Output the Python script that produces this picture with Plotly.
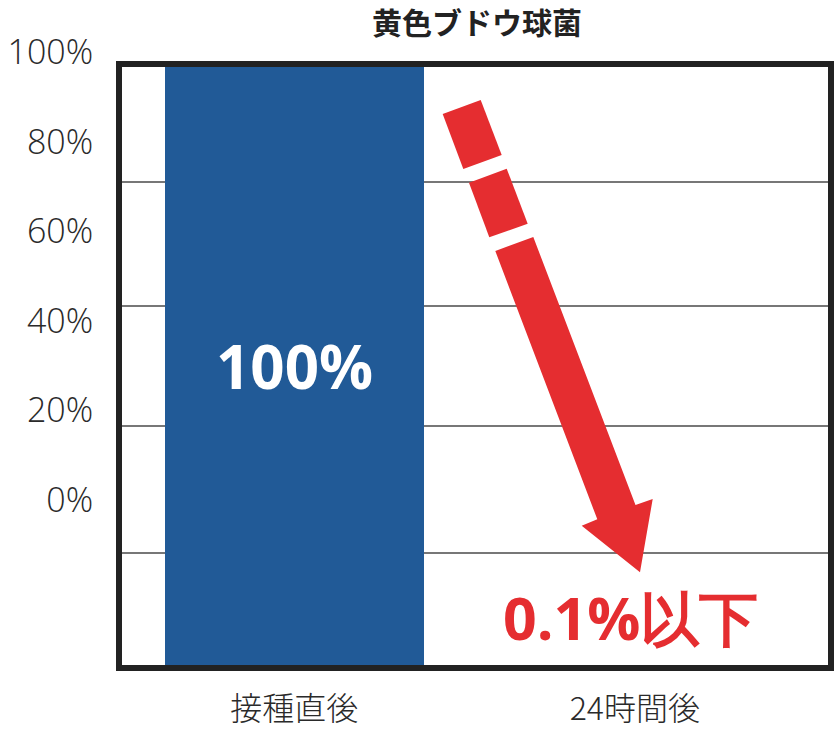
import plotly.graph_objects as go

# ---- data ----
categories = ["接種直後", "24時間後"]
values = [100, 0.1]
bar_labels = ["100%", "0.1%以下"]
grid_values = [19, 40, 60, 80.5]
tick_values = [0, 20, 40, 60, 80, 100]
tick_labels = ["0%", "20%", "40%", "60%", "80%", "100%"]
title_text = "黄色ブドウ球菌"

# ---- styling ----
W, H = 834, 731
ML, MR, MT, MB = 119, 3, 40, 63
BLUE = "#215a97"
RED = "#e52d30"
DARK = "#222222"
TXT = "#2a2a2a"
CJK = "Noto Sans CJK JP"
OPEN = "Open Sans"

plot_w = W - ML - MR
plot_h = H - MT - MB
ytop_px = 64  # top of main y domain (px from top)
main_top = (H - MB - ytop_px) / plot_h


def px2paper(px, py):
    return (px - ML) / plot_w, (H - MB - py) / plot_h


def poly(points):
    parts = []
    for i, (px, py) in enumerate(points):
        x, y = px2paper(px, py)
        parts.append(("M" if i == 0 else "L") + f"{x:.5f},{y:.5f}")
    return " ".join(parts) + " Z"


fig = go.Figure()
fig.add_trace(go.Bar(
    x=categories, y=values, width=0.76,
    marker=dict(color=BLUE, line=dict(width=0)),
    text=[bar_labels[0], ""],
    textposition="inside",
    insidetextanchor="middle",
    textfont=dict(color="white", size=60, family=OPEN, weight="bold"),
    cliponaxis=False,
    hoverinfo="skip", showlegend=False,
))
# helper trace so the label axis is drawn
fig.add_trace(go.Scatter(x=[None], y=[None], yaxis="y2", showlegend=False, hoverinfo="skip"))

# label axis geometry: 0% at y=500px, 100% at y=52px
y2_lo = (H - MB - 500) / plot_h
y2_hi = (H - MB - 52) / plot_h

arrow_segments = [
    [(442.7, 114), (480.7, 100), (501.7, 155), (463.3, 169)],
    [(469, 182.7), (506.7, 168.7), (527.7, 223.7), (489.3, 237.3)],
    [(495.3, 251), (533.3, 237), (635.5, 505), (652.7, 499), (640, 572.3), (581.7, 525.7), (597.3, 519.3)],
]
shapes = [
    dict(type="path", xref="paper", yref="paper", path=poly(seg),
         fillcolor=RED, line=dict(width=0), layer="above")
    for seg in arrow_segments
]
shapes.append(dict(type="rect", xref="x domain", yref="y domain", x0=0, x1=1, y0=0, y1=1,
                   line=dict(color=DARK, width=6), fillcolor="rgba(0,0,0,0)", layer="above"))

fig.add_annotation(x=categories[1], y=values[1], xref="x", yref="y",
                   text=bar_labels[1], showarrow=False,
                   xanchor="center", yanchor="middle", xshift=-4, yshift=50,
                   font=dict(family=OPEN, size=59, color=RED, weight="bold"))

fig.update_layout(
    width=W, height=H,
    margin=dict(l=ML, r=MR, t=MT, b=MB),
    paper_bgcolor="white", plot_bgcolor="rgba(0,0,0,0)",
    bargap=0,
    title=dict(text=title_text, x=477 / W, xanchor="center", xref="container",
               y=1 - 23 / H, yanchor="middle", yref="container",
               font=dict(family=CJK, size=30, color=DARK, weight="bold")),
    xaxis=dict(range=[-0.515, 1.576], showgrid=False, showline=False, zeroline=False,
               ticks="outside", ticklen=13, tickcolor="rgba(0,0,0,0)",
               tickfont=dict(family=CJK, size=32, color=TXT, weight=300)),
    yaxis=dict(domain=[0, main_top], range=[0, 100], tickvals=grid_values,
               showticklabels=False, showgrid=True, gridcolor="#777777", gridwidth=2,
               zeroline=False, showline=False, ticks=""),
    yaxis2=dict(domain=[y2_lo, y2_hi], range=[0, 100], anchor="x",
                tickvals=tick_values, ticktext=tick_labels,
                showgrid=False, zeroline=False, showline=False,
                ticks="outside", ticklen=18, tickcolor="rgba(0,0,0,0)",
                tickfont=dict(family=OPEN, size=34, color=TXT, weight=300)),
    shapes=shapes,
)

fig.write_html("out.html", config={"displayModeBar": False},
               post_script="document.body.style.margin='0px';")
